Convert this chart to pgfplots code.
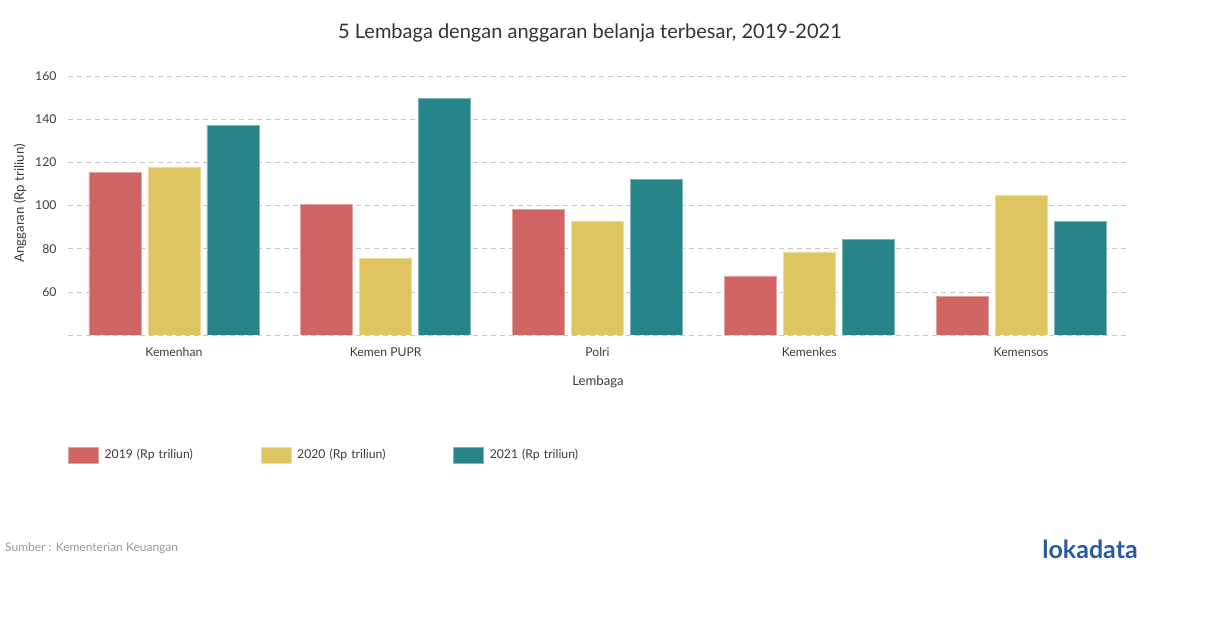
\documentclass[border=0pt]{standalone}
\usepackage{pgfplots}
\pgfplotsset{compat=1.18}
\usepackage{fontspec}
\setmainfont{Lato}
\definecolor{cA}{RGB}{207,101,99}
\definecolor{cB}{RGB}{222,197,96}
\definecolor{cC}{RGB}{38,133,137}
\definecolor{txt}{RGB}{60,60,60}
\definecolor{gridc}{RGB}{200,200,200}
\definecolor{logo}{RGB}{40,90,160}
\begin{document}
\begin{tikzpicture}
\useasboundingbox (0,0) rectangle (1210pt,628pt);
\begin{axis}[
  at={(68pt,293pt)}, anchor=south west,
  width=1059pt, height=263.3pt, scale only axis,
  xmin=-0.5, xmax=4.5, ymin=40, ymax=162,
  ybar, bar width=52pt,
  xtick={0,1,2,3,4},
  xticklabels={Kemenhan,Kemen PUPR,Polri,Kemenkes,Kemensos},
  ytick={40,60,80,100,120,140,160},
  yticklabels={{},60,80,100,120,140,160},
  ymajorgrids,
  major grid style={color=gridc, dash pattern=on 5pt off 4pt, line width=0.6pt},
  axis line style={draw=none},
  tick style={draw=none},
  /pgf/number format/assume math mode=true,
  ticklabel style={font=\fontsize{12.2}{14}\selectfont, text=txt},
  xticklabel style={yshift=-5pt},
  yticklabel style={xshift=-8pt},
  xlabel={Lembaga}, ylabel={Anggaran (Rp triliun)},
  every axis x label/.style={at={(axis description cs:0.5005,-0.1785)}, anchor=center, font=\fontsize{13.2}{15}\selectfont, text=txt},
  every axis y label/.style={at={(axis description cs:-0.0453,0.5)}, rotate=90, anchor=center, font=\fontsize{13.2}{15}\selectfont, text=txt},
  legend columns=3,
  legend style={at={(0,-0.4557)}, anchor=west, draw=none, inner sep=0pt, outer sep=0pt,
    font=\fontsize{12.2}{14}\selectfont, text=txt,
    /tikz/every even column/.append style={column sep=0pt},
    nodes={text width=150pt, inner xsep=6pt, align=left}},
  legend image code/.code={\fill[#1] (0pt,-8pt) rectangle (30pt,8pt);},
]
\addplot[fill=cA, draw=cA!60!white, line width=0.6pt, bar shift=-59pt] coordinates {(0,115.4) (1,100.6) (2,98.2) (3,67.4) (4,57.7)};
\addplot[fill=cB, draw=cB!60!white, line width=0.6pt, bar shift=0pt] coordinates {(0,117.9) (1,75.7) (2,92.6) (3,78.5) (4,104.6)};
\addplot[fill=cC, draw=cC!60!white, line width=0.6pt, bar shift=59pt] coordinates {(0,137.3) (1,149.8) (2,112.1) (3,84.3) (4,92.8)};
\legend{2019 (Rp triliun),2020 (Rp triliun),2021 (Rp triliun)}
\end{axis}
\node[font=\fontsize{20}{24}\selectfont, text=black!80] at (590pt,595pt) {5 Lembaga dengan anggaran belanja terbesar, 2019-2021};
\node[anchor=west, font=\fontsize{12}{14}\selectfont, text=gray!80, inner sep=0pt] at (5pt,80pt) {Sumber : Kementerian Keuangan};
\node[font=\bfseries\fontsize{25}{28}\selectfont, text=logo] at (1090pt,79pt) {lokadata};
\end{tikzpicture}
\end{document}
